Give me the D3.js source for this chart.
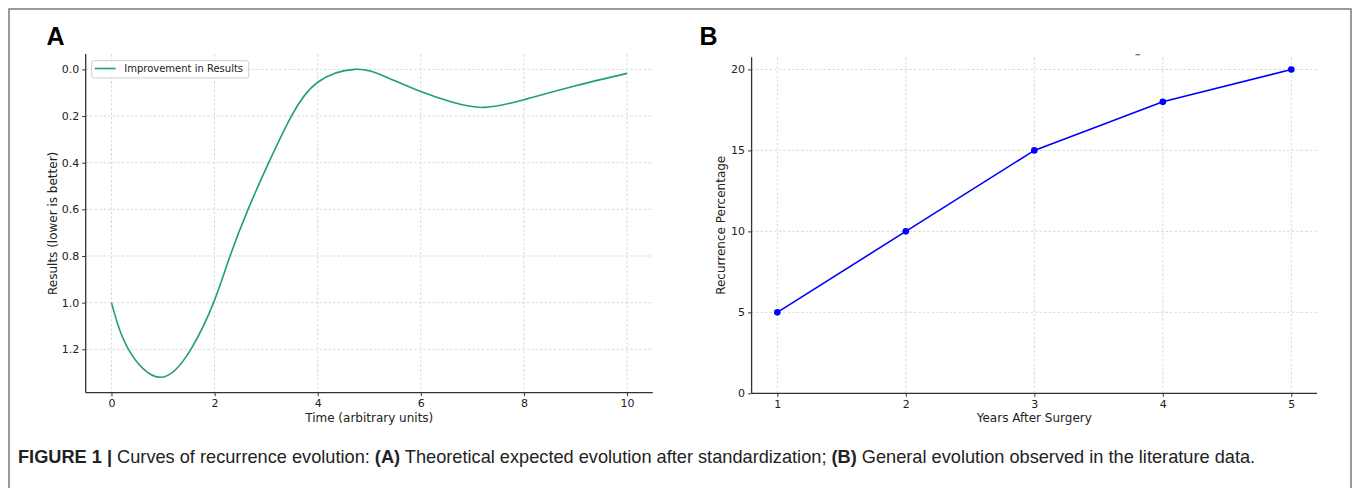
<!DOCTYPE html>
<html>
<head>
<meta charset="utf-8">
<script src="https://cdn.jsdelivr.net/npm/d3@7"></script>
<style>
  body { margin: 0; background: #fff; }
  svg text { font-family: "DejaVu Sans", sans-serif; fill: #222; }
  .tick text { font-size: 11px; }
  .tick line { stroke: #333; }
  .domain { display: none; }
  .grid line { stroke: #cfcfcf; stroke-width: 0.8; stroke-dasharray: 2.5,2; }
  .spine { stroke: #333; stroke-width: 1.3; }
  .axlabel { font-size: 12px; }
  .panel { font-family: "Liberation Sans", Arial, sans-serif; font-weight: bold; font-size: 25px; fill: #000; }
  .caption { font-family: "Liberation Sans", Arial, sans-serif; font-size: 18.2px; fill: #222; }
</style>
</head>
<body>
<div id="fig"></div>
<script>
// panel A : theoretical curve
const timeA = [0, 0.33, 0.95, 1.54, 1.98, 2.3, 2.65, 3.05, 3.49, 4.0, 4.72, 5.3, 6.0, 6.6, 7.22, 8.0, 9.0, 10];
const resultA = [1.0, 1.2, 1.32, 1.2, 1.0, 0.8, 0.6, 0.4, 0.2, 0.055, 0.0, 0.03, 0.095, 0.14, 0.163, 0.13, 0.07, 0.017];
const ticksAx = [0, 2, 4, 6, 8, 10];
const ticksAy = [0, 0.2, 0.4, 0.6, 0.8, 1.0, 1.2];

// panel B : literature data
const yearsB = [1, 2, 3, 4, 5];
const recurrenceB = [5, 10, 15, 18, 20];
const ticksBy = [0, 5, 10, 15, 20];

const CAPTION = [
    {t: "FIGURE 1 | ", b: true},
    {t: "Curves of recurrence evolution: ", b: false},
    {t: "(A)", b: true},
    {t: " Theoretical expected evolution after standardization; ", b: false},
    {t: "(B)", b: true},
    {t: " General evolution observed in the literature data.", b: false}
];

const FIG = {
    W: 1355,
    H: 488,
    A: {x0: 85.7, x1: 652.8, y0: 54, y1: 392.7},
    B: {x0: 751.6, x1: 1317, y0: 57.3, y1: 393.3},
    TICK: 3.5,
    PAD: 3
};

/* ---------------------------------- */
// matplotlib style 5% margins
var padded = function(vals){
    var ext = d3.extent(vals);
    var m = 0.05*(ext[1]-ext[0]);
    return [ext[0]-m, ext[1]+m];
};

var svg = d3.select("#fig").append("svg")
            .attr("width", FIG.W)
            .attr("height", FIG.H);

// figure frame, open at the bottom
svg.append("path")
   .attr("d", "M9," + FIG.H + "V9H1351V" + FIG.H)
   .attr("fill", "none")
   .attr("stroke", "#7a7a7a")
   .attr("stroke-width", 1.5);

var drawFrame = function(g, box, x, y, xt, yt, yfmt){
    var gx = g.append("g").classed("grid", true);
    gx.selectAll("line.v")
      .data(xt)
      .enter()
      .append("line")
      .attr("x1", (d) => x(d)).attr("x2", (d) => x(d))
      .attr("y1", box.y0).attr("y2", box.y1);
    gx.selectAll("line.h")
      .data(yt)
      .enter()
      .append("line")
      .attr("y1", (d) => y(d)).attr("y2", (d) => y(d))
      .attr("x1", box.x0).attr("x2", box.x1);

    g.append("g")
     .attr("transform", "translate(0," + box.y1 + ")")
     .call(d3.axisBottom(x).tickValues(xt).tickSize(FIG.TICK).tickPadding(FIG.PAD).tickFormat(d3.format("d")));
    g.append("g")
     .attr("transform", "translate(" + box.x0 + ",0)")
     .call(d3.axisLeft(y).tickValues(yt).tickSize(FIG.TICK).tickPadding(FIG.PAD).tickFormat(d3.format(yfmt)));

    g.append("line").classed("spine", true)
     .attr("x1", box.x0).attr("x2", box.x0)
     .attr("y1", box.y0).attr("y2", box.y1);
    g.append("line").classed("spine", true)
     .attr("x1", box.x0).attr("x2", box.x1)
     .attr("y1", box.y1).attr("y2", box.y1);
};

/* ---------- panel A ---------- */
var boxA = FIG.A;
var xA = d3.scaleLinear().domain(padded(timeA)).range([boxA.x0, boxA.x1]);
var yA = d3.scaleLinear().domain(padded(resultA)).range([boxA.y0, boxA.y1]);   // inverted axis
var gA = svg.append("g");
drawFrame(gA, boxA, xA, yA, ticksAx, ticksAy, ".1f");

gA.append("path")
  .datum(d3.zip(timeA, resultA))
  .attr("fill", "none")
  .attr("stroke", "#1f9e78")
  .attr("stroke-width", 1.6)
  .attr("d", d3.line().x((d) => xA(d[0])).y((d) => yA(d[1])).curve(d3.curveNatural));

var leg = gA.append("g")
            .attr("transform", "translate(" + (boxA.x0+6) + "," + (boxA.y0+6.7) + ")");
leg.append("rect")
   .attr("width", 157).attr("height", 17.3)
   .attr("rx", 2)
   .attr("fill", "#fff").attr("fill-opacity", 0.85)
   .attr("stroke", "#d0d0d0");
leg.append("line")
   .attr("x1", 3).attr("x2", 24).attr("y1", 7.8).attr("y2", 7.8)
   .attr("stroke", "#1f9e78").attr("stroke-width", 1.6);
leg.append("text")
   .attr("x", 32.5).attr("y", 11.5)
   .style("font-size", "10px")
   .text("Improvement in Results");

gA.append("text").classed("axlabel", true)
  .attr("x", (boxA.x0+boxA.x1)/2).attr("y", 421.5)
  .attr("text-anchor", "middle")
  .text("Time (arbitrary units)");
gA.append("text").classed("axlabel", true)
  .attr("transform", "translate(56.5," + ((boxA.y0+boxA.y1)/2) + ") rotate(-90)")
  .attr("text-anchor", "middle")
  .text("Results (lower is better)");
svg.append("text").classed("panel", true)
   .attr("x", 46.5).attr("y", 44.5)
   .text("A");

/* ---------- panel B ---------- */
var boxB = FIG.B;
var xB = d3.scaleLinear().domain(padded(yearsB)).range([boxB.x0, boxB.x1]);
var yB = d3.scaleLinear().domain([0, padded(recurrenceB)[1]]).range([boxB.y1, boxB.y0]);
var gB = svg.append("g");
drawFrame(gB, boxB, xB, yB, yearsB, ticksBy, "d");

var ptsB = d3.zip(yearsB, recurrenceB);
gB.append("path")
  .datum(ptsB)
  .attr("fill", "none")
  .attr("stroke", "#0000ff")
  .attr("stroke-width", 1.6)
  .attr("d", d3.line().x((d) => xB(d[0])).y((d) => yB(d[1])));
gB.selectAll("circle")
  .data(ptsB)
  .enter()
  .append("circle")
  .attr("cx", (d) => xB(d[0]))
  .attr("cy", (d) => yB(d[1]))
  .attr("r", 3.3)
  .attr("fill", "#0000ff");

// stray dash left over in the original plot
gB.append("line")
  .attr("x1", 1135.5).attr("x2", 1140).attr("y1", 54.7).attr("y2", 54.7)
  .attr("stroke", "#666").attr("stroke-width", 1.2);

gB.append("text").classed("axlabel", true)
  .attr("x", (boxB.x0+boxB.x1)/2).attr("y", 421.5)
  .attr("text-anchor", "middle")
  .text("Years After Surgery");
gB.append("text").classed("axlabel", true)
  .attr("transform", "translate(724.5," + ((boxB.y0+boxB.y1)/2) + ") rotate(-90)")
  .attr("text-anchor", "middle")
  .text("Recurrence Percentage");
svg.append("text").classed("panel", true)
   .attr("x", 699.5).attr("y", 44.5)
   .text("B");

/* ---------- caption ---------- */
svg.append("text").classed("caption", true)
   .attr("x", 18).attr("y", 463)
   .selectAll("tspan")
   .data(CAPTION)
   .enter()
   .append("tspan")
   .style("font-weight", (d) => (d.b ? "bold" : "normal"))
   .text((d) => d.t);
</script>
</body>
</html>
